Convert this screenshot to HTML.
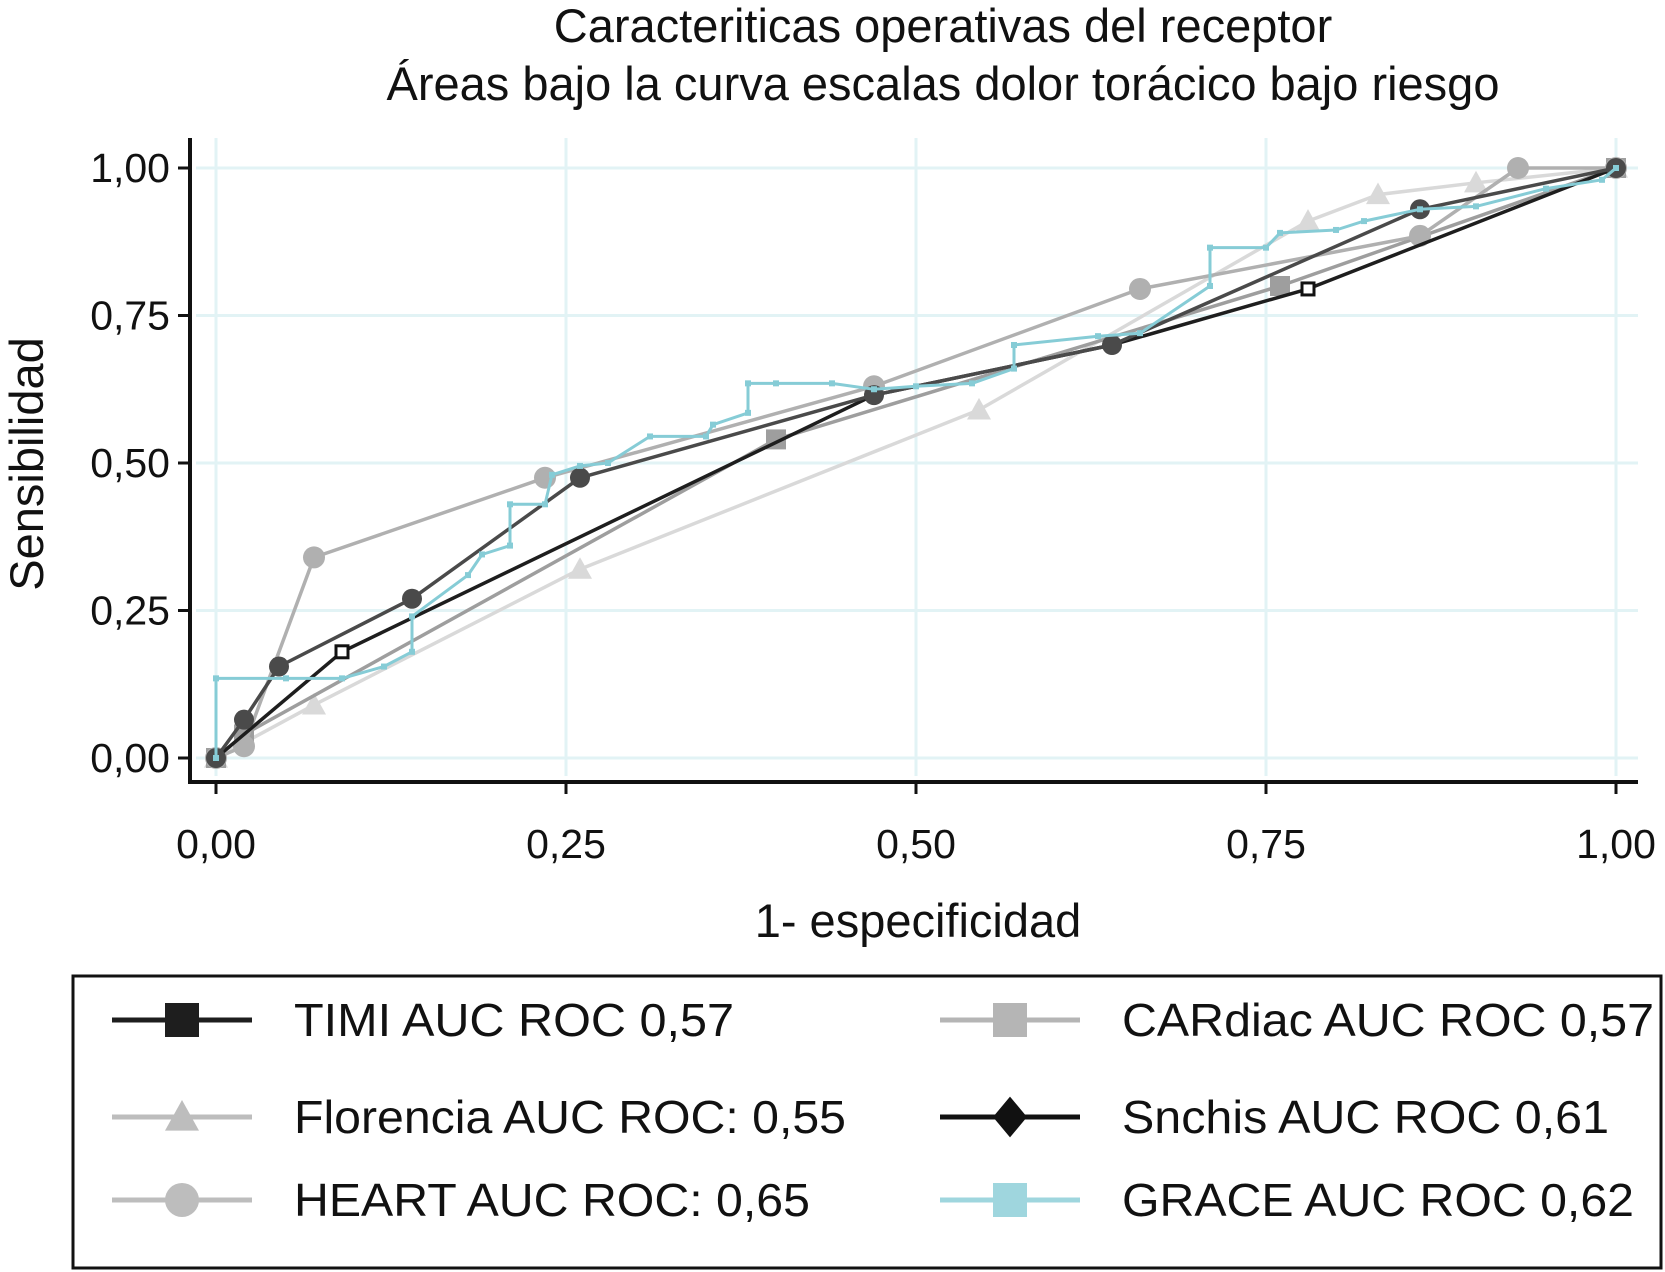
<!DOCTYPE html>
<html><head><meta charset="utf-8"><style>
html,body{margin:0;padding:0;background:#fff;}
svg{display:block;font-family:"Liberation Sans",Arial,sans-serif;}
</style></head><body>
<svg id="chart" width="1665" height="1272" viewBox="0 0 1665 1272">
<text x="943" y="42" font-size="47" text-anchor="middle" fill="#111">Caracteriticas operativas del receptor</text>
<text x="943" y="100" font-size="47" text-anchor="middle" fill="#111">Áreas bajo la curva escalas dolor torácico bajo riesgo</text>
<g id="grid"></g>
<g id="series"></g>
<g id="axes"></g>
<text x="918" y="937" font-size="47" text-anchor="middle" fill="#111">1- especificidad</text>
<text transform="translate(43,464) rotate(-90)" font-size="47" text-anchor="middle" fill="#111">Sensibilidad</text>
<rect x="73" y="976" width="1588" height="292" fill="none" stroke="#111" stroke-width="3"/>
<g id="legend"></g>
</svg>
<script>
const xTicks = [0, 0.25, 0.5, 0.75, 1];
const yTicks = [0, 0.25, 0.5, 0.75, 1];
const tickLabels = ["0,00", "0,25", "0,50", "0,75", "1,00"];
const seriesNames = ["TIMI", "CARdiac", "Florencia", "Snchis", "HEART", "GRACE"];
const timiX = [0, 0.09, 0.47, 0.64, 0.78, 1];
const timiY = [0, 0.18, 0.615, 0.70, 0.795, 1];
const cardiacX = [0, 0.02, 0.40, 0.76, 1];
const cardiacY = [0, 0.04, 0.54, 0.80, 1];
const florenciaX = [0, 0.07, 0.26, 0.545, 0.78, 0.83, 0.90, 1];
const florenciaY = [0, 0.09, 0.32, 0.59, 0.91, 0.955, 0.975, 1];
const snchisX = [0, 0.02, 0.045, 0.14, 0.26, 0.47, 0.64, 0.86, 1];
const snchisY = [0, 0.065, 0.155, 0.27, 0.475, 0.615, 0.70, 0.93, 1];
const heartX = [0, 0.02, 0.07, 0.235, 0.47, 0.66, 0.86, 0.93, 1];
const heartY = [0, 0.02, 0.34, 0.475, 0.63, 0.795, 0.885, 1.0, 1];
const graceX = [0,0,0.05,0.09,0.12,0.14,0.14,0.18,0.19,0.21,0.21,0.235,0.24,0.26,0.28,0.31,0.35,0.355,0.38,0.38,0.40,0.44,0.47,0.50,0.54,0.57,0.57,0.63,0.66,0.71,0.71,0.75,0.76,0.80,0.82,0.86,0.90,0.95,0.99,1];
const graceY = [0,0.135,0.135,0.135,0.155,0.18,0.24,0.31,0.345,0.36,0.43,0.43,0.48,0.495,0.50,0.545,0.545,0.565,0.585,0.635,0.635,0.635,0.625,0.63,0.635,0.66,0.70,0.715,0.72,0.80,0.865,0.865,0.89,0.895,0.91,0.93,0.935,0.965,0.98,1];

const NS = "http://www.w3.org/2000/svg";
const X0 = 216, XW = 1400, Y0 = 758, YH = 590;
function sx(v){ return X0 + v*XW; }
function sy(v){ return Y0 - v*YH; }
function mk(tag, attrs, parent){ const e = document.createElementNS(NS, tag); for (const k in attrs) e.setAttribute(k, attrs[k]); parent.appendChild(e); return e; }

const grid = document.getElementById('grid');
const axes = document.getElementById('axes');
const PL = 190, PR = 1638, PT = 138, PB = 782;
xTicks.forEach((v,i)=>{
  const l = mk('line',{x1:sx(v),x2:sx(v),y1:PT,y2:PB-6,stroke:'#e2f3f5','stroke-width':3},grid);
  
  
  const t = mk('line',{x1:sx(v),x2:sx(v),y1:PB,y2:PB+12,stroke:'#111','stroke-width':3},axes);
  
  
  const tx = mk('text',{x:sx(v),y:858,'font-size':41,'text-anchor':'middle',fill:'#111'},axes);
  tx.textContent = tickLabels[i];
  
  
});
yTicks.forEach((v,i)=>{
  const l = mk('line',{x1:PL+6,x2:PR,y1:sy(v),y2:sy(v),stroke:'#e2f3f5','stroke-width':3},grid);
  
  
  const t = mk('line',{x1:PL-12,x2:PL,y1:sy(v),y2:sy(v),stroke:'#111','stroke-width':3},axes);
  
  
  const tx = mk('text',{x:PL-20,y:sy(v)+14,'font-size':41,'text-anchor':'end',fill:'#111'},axes);
  tx.textContent = tickLabels[i];
  
  
});
const ax1 = mk('path',{d:`M${PL},${PT} L${PL},${PB} L${PR},${PB}`,fill:'none',stroke:'#111','stroke-width':4},axes);



const series = document.getElementById('series');
function marker(type, x, y, color, r, parent){
  let m;
  if (type==='circle') m = mk('circle',{cx:x,cy:y,r:r,fill:color},parent);
  else if (type==='square') m = mk('rect',{x:x-r,y:y-r,width:2*r,height:2*r,fill:color},parent);
  else if (type==='hsquare') m = mk('rect',{x:x-r+2,y:y-r+2,width:2*r-4,height:2*r-4,fill:'#fff',stroke:color,'stroke-width':3},parent);
  else if (type==='triangle') m = mk('path',{d:`M${x},${y-r} L${x+r},${y+r*0.8} L${x-r},${y+r*0.8} Z`,fill:color},parent);
  else if (type==='diamond') m = mk('path',{d:`M${x},${y-r*1.2} L${x+r},${y} L${x},${y+r*1.2} L${x-r},${y} Z`,fill:color},parent);
  return m;
}
function drawSeries(xs, ys, color, width, mtype, r, name){
  const g = mk('g',{},series);
  
  
  const d = xs.map((v,i)=>(i?'L':'M')+sx(v).toFixed(1)+','+sy(ys[i]).toFixed(1)).join(' ');
  const p = mk('path',{d:d,fill:'none',stroke:color,'stroke-width':width,'stroke-linejoin':'round'},g);
  
  
  xs.forEach((v,i)=>{
    if (mtype) {
      const m = marker(mtype, sx(v), sy(ys[i]), color, r, g);
      
      
    }
  });
}
drawSeries(florenciaX, florenciaY, '#d9d9d9', 3.5, 'triangle', 12, 'florencia-series');
drawSeries(cardiacX, cardiacY, '#9e9e9e', 3.5, 'square', 10, 'cardiac-series');
drawSeries(heartX, heartY, '#b0b0b0', 3.5, 'circle', 11, 'heart-series');
drawSeries(timiX, timiY, '#1e1e1e', 3.5, null, 0, 'timi-series');
[1,4].forEach(i=>{
  const m = marker('hsquare', sx(timiX[i]), sy(timiY[i]), '#111', 8, series);
  
  
});
drawSeries(snchisX, snchisY, '#4a4a4a', 3.5, 'circle', 10, 'snchis-series');
drawSeries(graceX, graceY, '#86ccd6', 3, 'square', 3, 'grace-series');

const legend = document.getElementById('legend');
const legItems = [
  {label:'TIMI AUC ROC 0,57', color:'#1e1e1e', m:'square', x:112, y:1020, tl:440},
  {label:'CARdiac AUC ROC 0,57', color:'#b5b5b5', m:'square', x:940, y:1020, tl:532},
  {label:'Florencia AUC ROC: 0,55', color:'#bdbdbd', m:'triangle', x:112, y:1117, tl:552},
  {label:'Snchis AUC ROC 0,61', color:'#111', m:'diamond', x:940, y:1117, tl:487},
  {label:'HEART AUC ROC: 0,65', color:'#bdbdbd', m:'circle', x:112, y:1200, tl:516},
  {label:'GRACE AUC ROC 0,62', color:'#9fd6de', m:'square', x:940, y:1200, tl:512}
];
legItems.forEach(it=>{
  const g = mk('g',{},legend);
  
  
  mk('line',{x1:it.x,x2:it.x+140,y1:it.y,y2:it.y,stroke:it.color,'stroke-width':5},g);
  marker(it.m, it.x+70, it.y, it.color, 17, g);
  const t = mk('text',{x:it.x+182,y:it.y+16,'font-size':46,fill:'#111',textLength:it.tl,lengthAdjust:'spacingAndGlyphs'},g);
  t.textContent = it.label;
});
</script>
</body></html>
